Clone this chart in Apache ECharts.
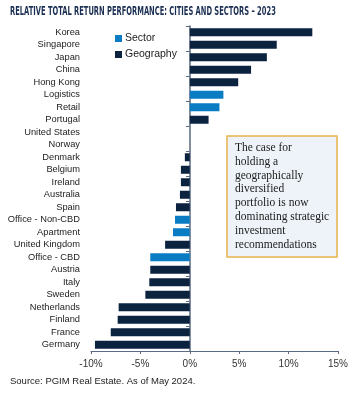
<!DOCTYPE html>
<html><head><meta charset="utf-8">
<script src="https://cdn.jsdelivr.net/npm/echarts@6/dist/echarts.min.js"></script>
<style>html,body{margin:0;padding:0;background:#fff}#c{width:356px;height:396px}</style>
</head><body><div id="c"></div>
<script>
const categories = ["Korea","Singapore","Japan","China","Hong Kong","Logistics","Retail","Portugal","United States","Norway","Denmark","Belgium","Ireland","Australia","Spain","Office - Non-CBD","Apartment","United Kingdom","Office - CBD","Austria","Italy","Sweden","Netherlands","Finland","France","Germany"];
const returns = [12.4,8.8,7.8,6.2,4.9,3.4,3.0,1.9,0,0,-0.5,-0.9,-0.9,-1.0,-1.4,-1.5,-1.7,-2.5,-4.0,-4.0,-4.1,-4.5,-7.2,-7.3,-8.0,-9.6];
const groups = ["G","G","G","G","G","S","S","G","G","G","G","G","G","G","G","S","S","G","S","G","G","G","G","G","G","G"];
const xTicks = [-10,-5,0,5,10,15];
const titleText = "RELATIVE TOTAL RETURN PERFORMANCE: CITIES AND SECTORS \u2013 2023";
const sourceText = "Source: PGIM Real Estate. As of May 2024.";
const boxLines = ["The case for","holding a","geographically","diversified","portfolio is now","dominating strategic","investment","recommendations"];

const NAVY = "#0c2340", BLUE = "#0a7cc4";
const sectorData = returns.map((v,i)=> groups[i]==="S" ? v : '-');
const geoData = returns.map((v,i)=> groups[i]==="G" ? v : '-');

const chart = echarts.init(document.getElementById('c'), null, {renderer:'canvas'});
chart.setOption({
  animation:false,
  grid:{left:91,right:18,top:26,height:325,containLabel:false,outerBoundsMode:'none'},
  legend:{orient:'vertical',left:110,top:28,itemWidth:7,itemHeight:7,itemGap:5,icon:'rect',
    textStyle:{fontFamily:'Liberation Sans',fontSize:10.5,color:'#222',padding:[0,0,0,-2]},
    data:['Sector','Geography']},
  xAxis:{type:'value',min:xTicks[0],max:xTicks[xTicks.length-1],interval:5,
    splitLine:{show:false},
    axisLine:{show:true,lineStyle:{color:'#5a6a80',width:1}},
    axisTick:{show:true,length:3,lineStyle:{color:'#5a6a80'}},
    axisLabel:{showMinLabel:true,showMaxLabel:true,hideOverlap:false,formatter:v=>v+'%',fontFamily:'Liberation Sans',fontSize:10,color:'#333',margin:8}},
  yAxis:[
    {type:'category',data:categories,inverse:true,position:'left',
      axisLine:{show:false},axisTick:{show:false},
      axisLabel:{interval:0,hideOverlap:false,fontFamily:'Liberation Sans',fontSize:9.3,color:'#222',margin:11}},
    {type:'category',data:categories,inverse:true,position:'left',offset:-99,
      axisLine:{show:true,onZero:false,lineStyle:{color:'#5a6a80',width:1.5}},
      axisTick:{show:true,length:4,lineStyle:{color:'#5a6a80'}},
      axisLabel:{show:false}}
  ],
  series:[
    {name:'Sector',type:'bar',stack:'a',data:sectorData,barWidth:8,itemStyle:{color:BLUE}},
    {name:'Geography',type:'bar',stack:'a',data:geoData,barWidth:8,itemStyle:{color:NAVY}}
  ],
  graphic:[
    {type:'text',x:10,y:6,scaleX:0.65,style:{text:titleText,fontFamily:'Liberation Sans Narrow, DejaVu Sans Condensed, Liberation Sans',fontWeight:'bold',fontSize:11.5,fill:'#1b2f52'}},
    {type:'text',x:10,y:376,style:{text:sourceText,fontFamily:'Liberation Sans',fontSize:9.5,fill:'#222'}},
    {type:'rect',x:227,y:136,shape:{x:0,y:0,width:110,height:121},style:{fill:'#eef3f9',stroke:'#e8b34a',lineWidth:1.5}},
    {type:'text',x:235,y:141,style:{text:boxLines.join('\n'),fontFamily:'Liberation Serif',fontSize:11.5,lineHeight:13.8,fill:'#1a1a1a'}}
  ]
});
</script></body></html>
